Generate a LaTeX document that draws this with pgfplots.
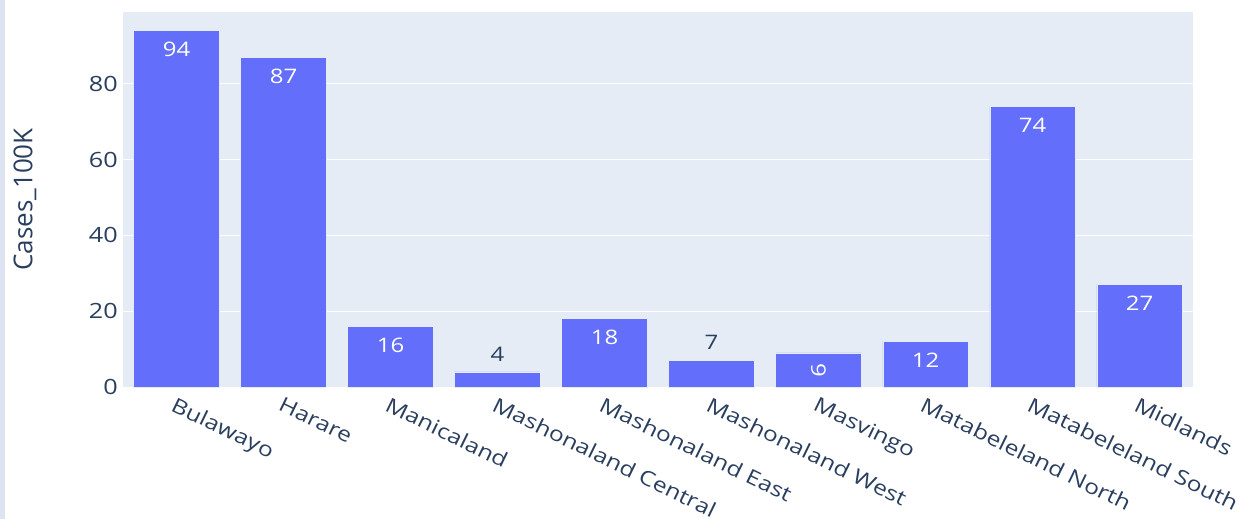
\documentclass[border=0pt]{standalone}
\usepackage{pgfplots}
\pgfplotsset{compat=1.18}
\usepackage{fontspec}
\setmainfont{Open Sans}
\newfontfamily\widefont[FakeStretch=1.2]{Open Sans}
\definecolor{plotbg}{HTML}{E5ECF6}
\definecolor{barcol}{HTML}{636EFA}
\definecolor{txtcol}{HTML}{2A3F5F}
\definecolor{stripcol}{HTML}{DDE3F1}
\begin{document}
\begin{tikzpicture}
\path[use as bounding box] (0,0) rectangle (1251bp,519bp);
\fill[white] (0,0) rectangle (1251bp,519bp);
\fill[stripcol] (0,0) rectangle (5bp,519bp);
\begin{axis}[
  at={(123bp,132bp)}, anchor=south west,
  scale only axis, width=1070bp, height=375bp,
  xmin=-0.5, xmax=9.5, ymin=0, ymax=98.9,
  clip=false,
  axis background/.style={fill=plotbg},
  axis line style={draw=none},
  major tick length=0pt,
  ymajorgrids, grid style={white, line width=1bp},
  ytick={0,20,40,60,80},
  xtick={0,...,9},
  xticklabels={Bulawayo,Harare,Manicaland,Mashonaland Central,Mashonaland East,Mashonaland West,Masvingo,Matabeleland North,Matabeleland South,Midlands},
  xticklabel style={font=\widefont\fontsize{20.5bp}{24bp}\selectfont, text=txtcol, rotate=-26, anchor=north west, inner sep=0pt, xshift=4bp, yshift=-8bp},
  yticklabel style={font=\widefont\fontsize{21bp}{24bp}\selectfont, text=txtcol, anchor=east, inner sep=0pt, xshift=-5bp},
  /pgf/number format/assume math mode=true,
  ylabel={Cases\_100K},
  ylabel style={at={(axis description cs:-0.0916,0.5)}, anchor=center, rotate=0, font=\fontsize{26bp}{30bp}\selectfont, text=txtcol},
]
\addplot[ybar, bar width=85.6bp, fill=barcol, draw=plotbg, line width=0.5bp] coordinates {
 (0,94) (1,87) (2,16) (3,4) (4,18) (5,7) (6,9) (7,12) (8,74) (9,27)
};
% labels inside bars
\addplot[draw=none, nodes near coords, point meta=explicit,
  every node near coord/.style={anchor=center, yshift=-19bp, text=white, font=\widefont\fontsize{20bp}{24bp}\selectfont}]
 coordinates {(0,94)[94] (1,87)[87] (2,16)[16] (4,18)[18] (7,12)[12] (8,74)[74] (9,27)[27]};
% labels outside bars
\addplot[draw=none, nodes near coords, point meta=explicit,
  every node near coord/.style={anchor=center, yshift=18bp, text=txtcol, font=\widefont\fontsize{20bp}{24bp}\selectfont}]
 coordinates {(3,4)[4] (5,7)[7]};
% rotated label
\addplot[draw=none, nodes near coords, point meta=explicit,
  every node near coord/.style={anchor=center, rotate=-90, text=white, font=\widefont\fontsize{20bp}{24bp}\selectfont}]
 coordinates {(6,4.5)[9]};
\end{axis}
\end{tikzpicture}
\end{document}
